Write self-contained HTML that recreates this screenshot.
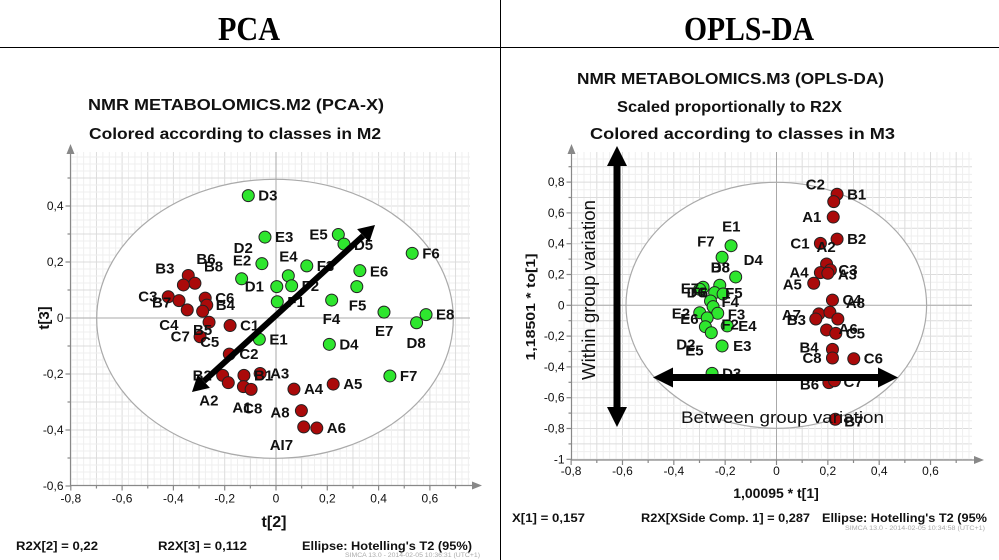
<!DOCTYPE html>
<html><head><meta charset="utf-8"><style>
html,body{margin:0;padding:0;background:#fff;}
svg{display:block;font-family:"Liberation Sans",sans-serif;}
</style></head><body>
<svg id="s" width="999" height="560" viewBox="0 0 999 560" xmlns="http://www.w3.org/2000/svg">
<line x1="0" y1="47.5" x2="999" y2="47.5" stroke="#000" stroke-width="1"/>
<line x1="500.5" y1="0" x2="500.5" y2="560" stroke="#000" stroke-width="1"/>
<text x="249" y="40" text-anchor="middle" font-family="Liberation Serif,serif" font-weight="bold" font-size="34" textLength="62" lengthAdjust="spacingAndGlyphs">PCA</text>
<text x="749" y="40" text-anchor="middle" font-family="Liberation Serif,serif" font-weight="bold" font-size="34" textLength="130" lengthAdjust="spacingAndGlyphs">OPLS-DA</text>
<g font-weight="bold" font-size="16" fill="#111">
<text x="88" y="110" textLength="296" lengthAdjust="spacingAndGlyphs">NMR METABOLOMICS.M2 (PCA-X)</text>
<text x="89" y="139" textLength="292" lengthAdjust="spacingAndGlyphs">Colored according to classes in M2</text>
<text x="577" y="84" textLength="307" lengthAdjust="spacingAndGlyphs">NMR METABOLOMICS.M3 (OPLS-DA)</text>
<text x="617" y="112" textLength="225" lengthAdjust="spacingAndGlyphs">Scaled proportionally to R2X</text>
<text x="590" y="139" textLength="305" lengthAdjust="spacingAndGlyphs">Colored according to classes in M3</text>
</g>
<g font-weight="bold" font-size="12" fill="#111">
<text x="16" y="550" textLength="82" lengthAdjust="spacingAndGlyphs">R2X[2] = 0,22</text>
<text x="158" y="550" textLength="89" lengthAdjust="spacingAndGlyphs">R2X[3] = 0,112</text>
<text x="302" y="550" textLength="170" lengthAdjust="spacingAndGlyphs">Ellipse: Hotelling's T2 (95%)</text>
<text x="512" y="522" textLength="73" lengthAdjust="spacingAndGlyphs">X[1] = 0,157</text>
<text x="641" y="522" textLength="169" lengthAdjust="spacingAndGlyphs">R2X[XSide Comp. 1] = 0,287</text>
<text x="822" y="522" textLength="165" lengthAdjust="spacingAndGlyphs">Ellipse: Hotelling's T2 (95%</text>
</g>
<text x="345" y="557" font-size="6" fill="#aaa" textLength="135" lengthAdjust="spacingAndGlyphs">SIMCA 13.0 - 2014-02-05 10:36:31 (UTC+1)</text>
<text x="845" y="530" font-size="6" fill="#aaa" textLength="140" lengthAdjust="spacingAndGlyphs">SIMCA 13.0 - 2014-02-05 10:34:58 (UTC+1)</text>
<g id="pca"></g>
<g id="opls"></g>
</svg>
<script>
// ---- PCA data ----
const pcaX = [-0.108,-0.043,-0.055,-0.134,0.003,0.048,0.061,0.120,0.005,0.243,0.265,0.327,0.315,0.217,0.421,0.585,0.548,0.531,0.208,0.444,-0.065,
 -0.342,-0.316,-0.361,-0.420,-0.378,-0.346,-0.276,-0.270,-0.286,-0.261,-0.296,-0.179,-0.182,-0.208,-0.186,-0.125,-0.062,-0.127,-0.097,0.070,0.223,0.099,0.108,0.159];
const pcaY = [0.437,0.289,0.194,0.140,0.112,0.151,0.115,0.186,0.058,0.298,0.264,0.169,0.112,0.064,0.021,0.012,-0.017,0.231,-0.094,-0.207,-0.076,
 0.152,0.124,0.118,0.076,0.062,0.029,0.071,0.046,0.024,-0.015,-0.067,-0.027,-0.129,-0.205,-0.231,-0.205,-0.198,-0.245,-0.255,-0.254,-0.236,-0.331,-0.389,-0.393];
const pcaClass = [1,1,1,1,1,1,1,1,1,1,1,1,1,1,1,1,1,1,1,1,1, 2,2,2,2,2,2,2,2,2,2,2,2,2,2,2,2,2,2,2,2,2,2,2,2];
const pcaLabText = ["D3","E3","E2","D2","D1","E4","F2","F3","F1","E5","D5","E6","F5","F4","E7","E8","D8","F6","D4","F7","E1",
 "B3","B8","B6","C3","B7","C4","C6","B4","C7","B5","C5","C1","C2","B2","A2","B1","A3","A1","C8","A4","A5","A8","AI7","A6"];
const pcaLabPt = [0,1,2,3,4,5,6,7,8,9,10,11,12,13,14,15,16,17,18,19,20,21,22,23,24,25,26,27,28,29,30,31,32,33,34,35,36,37,38,39,40,41,42,43,44];
const pcaLabDx = [10,10,-29,-8,-32,-9,10,10,10,-29,10,10,-8,-9,-9,10,-10,10,10,10,10, -33,9,13,-30,-27,-28,10,9,-32,-16,0,10,10,-30,-29,10,10,-11,-8,10,10,-31,-34,10];
const pcaLabDy = [0,0,-3,-31,0,-19,0,0,0,0,1,1,19,19,19,0,20,0,0,0,0, -7,-17,-26,0,2,15,0,0,25,8,5,0,0,0,18,0,0,21,19,0,0,2,18,0];
const pcaTicksX = [-0.8,-0.6,-0.4,-0.2,0,0.2,0.4,0.6];
const pcaTicksY = [-0.6,-0.4,-0.2,0,0.2,0.4];
// ---- OPLS data ----
const oplsX = [0.236,0.223,0.221,0.236,0.171,0.195,0.210,0.171,0.200,0.145,0.218,0.165,0.208,0.153,0.239,0.195,0.231,0.218,0.218,0.301,0.204,0.226,0.229,
 -0.177,-0.212,-0.159,-0.221,-0.286,-0.299,-0.241,-0.208,-0.257,-0.247,-0.299,-0.229,-0.270,-0.192,-0.277,-0.254,-0.212,-0.251];
const oplsY = [0.721,0.673,0.573,0.430,0.402,0.268,0.229,0.212,0.208,0.143,0.034,-0.056,-0.045,-0.089,-0.089,-0.160,-0.182,-0.286,-0.342,-0.347,-0.502,-0.490,-0.740,
 0.387,0.312,0.184,0.130,0.117,0.104,0.082,0.073,0.028,-0.009,-0.048,-0.052,-0.082,-0.134,-0.139,-0.178,-0.264,-0.442];
const oplsClass = [2,2,2,2,2,2,2,2,2,2,2,2,2,2,2,2,2,2,2,2,2,2,2, 1,1,1,1,1,1,1,1,1,1,1,1,1,1,1,1,1,1];
const oplsLabText = ["B1","C2","A1","B2","C1","A2","C3","A4","A3","A5","C4","A8","A7","B3","A6","C5","B4","C8","C6","B6","C7","B7",
 "E1","F7","D4","D8","B8","E7","D6","F6","F5","F4","E2","F3","E6","E4","F2","E3","D2","E5","D3"];
const oplsLabPt = [0,1,2,3,4,5,6,7,8,9,10,14,11,13,15,16,17,18,19,20,21,22,
 23,24,25,26,26,28,29,29,30,31,33,34,35,36,37,39,38,38,40];
const oplsLabDx = [10,-28,-31,10,-30,-10,8,-31,10,-31,10,8,-37,-29,12,10,-33,-30,10,-29,9,9,
 -9,-25,8,-9,-9,-19,-28,-24,2,11,-28,10,-27,11,16,11,-35,-26,10];
const oplsLabDy = [0,-17,0,0,0,-17,0,0,1,1,0,-16,1,1,-1,0,-2,0,0,2,1,2,
 -19,-16,-17,-18,-18,-1,0,0,-1,1,1,1,1,0,-2,0,12,18,0];
const oplsTicksX = [-0.8,-0.6,-0.4,-0.2,0,0.2,0.4,0.6];
const oplsTicksY = [-1,-0.8,-0.6,-0.4,-0.2,0,0.2,0.4,0.6,0.8];

const NS="http://www.w3.org/2000/svg";
function mk(parent,tag,attrs){const e=document.createElementNS(NS,tag);for(const k in attrs)e.setAttribute(k,attrs[k]);parent.appendChild(e);return e;}
function fmt(v){if(Math.abs(v)<1e-9)return "0";return String(Math.round(v*10)/10).replace(".",",");}

function plot(g,cfg,X,Y,C,LT,LP,LDX,LDY,TX,TY,prefix){
  const sx=v=>cfg.x0+v*cfg.kx, sy=v=>cfg.y0-v*cfg.ky;
  const L=cfg.left,R=cfg.right,T=cfg.top,B=cfg.bottom;
  const grid=mk(g,'g',{});
  
  
  for(let v=-1.2;v<=1.2001;v+=0.025){
    const px=sx(v); const major=Math.abs(Math.round(v*10)-v*10)<1e-6;
    if(px>L&&px<R) mk(grid,'line',{x1:px,y1:T,x2:px,y2:B,stroke:major?'#dcdcdc':'#efefef','stroke-width':1});
    const py=sy(v*cfg.gy);
    if(py>T&&py<B) mk(grid,'line',{x1:L,y1:py,x2:R,y2:py,stroke:(Math.abs(Math.round(v*cfg.gy*10)-v*cfg.gy*10)<1e-6)?'#dcdcdc':'#efefef','stroke-width':1});
  }
  mk(grid,'line',{x1:sx(0),y1:T,x2:sx(0),y2:B,stroke:'#aaa','stroke-width':1});
  mk(grid,'line',{x1:L,y1:sy(0),x2:R,y2:sy(0),stroke:'#aaa','stroke-width':1});
  const ax=mk(g,'g',{stroke:'#888','stroke-width':1.2,fill:'#888'});
  
  
  mk(ax,'line',{x1:L,y1:B,x2:R+8,y2:B});
  mk(ax,'line',{x1:L,y1:B,x2:L,y2:T-4});
  mk(ax,'path',{d:`M${R+12},${B} l-10,-4 l0,8 z`,stroke:'none'});
  mk(ax,'path',{d:`M${L},${T-8} l-4,10 l8,0 z`,stroke:'none'});
  TX.forEach(v=>{const px=sx(v);
    mk(ax,'line',{x1:px,y1:B,x2:px,y2:B+5});
    mk(ax,'line',{x1:px+cfg.kx*0.1,y1:B,x2:px+cfg.kx*0.1,y2:B+3});
    const t=mk(g,'text',{x:px,y:B+cfg.tickDy,'text-anchor':'middle','font-size':12,fill:'#111'});t.textContent=fmt(v);
    
    
  });
  TY.forEach(v=>{const py=sy(v);
    mk(ax,'line',{x1:L-5,y1:py,x2:L,y2:py});
    mk(ax,'line',{x1:L-3,y1:py-cfg.ky*0.1,x2:L,y2:py-cfg.ky*0.1});
    const t=mk(g,'text',{x:L-7,y:py+4,'text-anchor':'end','font-size':12,fill:'#111'});t.textContent=fmt(v);
    
    
  });
  const el=mk(g,'ellipse',{cx:cfg.ecx,cy:cfg.ecy,rx:cfg.erx,ry:cfg.ery,fill:'#fff',stroke:'#aaa','stroke-width':1.2});
  
  
  mk(g,'line',{x1:sx(0),y1:cfg.ecy-cfg.ery,x2:sx(0),y2:cfg.ecy+cfg.ery,stroke:'#aaa','stroke-width':1});
  mk(g,'line',{x1:cfg.ecx-cfg.erx,y1:sy(0),x2:cfg.ecx+cfg.erx,y2:sy(0),stroke:'#aaa','stroke-width':1});
  const pts=mk(g,'g',{});
  
  
  X.forEach((v,i)=>{
    const c=mk(pts,'circle',{cx:sx(v),cy:sy(Y[i]),r:6,fill:C[i]===1?'#2ee62e':'#aa0a0a',stroke:'#222','stroke-width':1});
    
    
  });
  const labs=mk(g,'g',{'font-weight':'bold','font-size':15,fill:'#111'});
  
  
  LT.forEach((s,i)=>{
    const p=LP[i];
    const t=mk(labs,'text',{x:sx(X[p])+LDX[i],y:sy(Y[p])+LDY[i]+5});t.textContent=s;
    
    
  });
  return {sx,sy};
}
function arrow(g,x1,y1,x2,y2,w,hl,hw){
  const dx=x2-x1,dy=y2-y1,len=Math.hypot(dx,dy),ux=dx/len,uy=dy/len,nx=-uy,ny=ux;
  const a=[x1+ux*hl,y1+uy*hl],b=[x2-ux*hl,y2-uy*hl];
  mk(g,'line',{x1:a[0],y1:a[1],x2:b[0],y2:b[1],stroke:'#000','stroke-width':w});
  mk(g,'path',{d:`M${x2},${y2} L${b[0]+nx*hw},${b[1]+ny*hw} L${b[0]-nx*hw},${b[1]-ny*hw} Z`,fill:'#000'});
  mk(g,'path',{d:`M${x1},${y1} L${a[0]+nx*hw},${a[1]+ny*hw} L${a[0]-nx*hw},${a[1]-ny*hw} Z`,fill:'#000'});
}

const gp=document.getElementById('pca');
plot(gp,{x0:276,kx:256.5,y0:318,ky:280,gy:1,left:70.5,right:470,top:152,bottom:485.5,tickDy:17,ecx:275,ecy:318.8,erx:178.3,ery:139.5},
  pcaX,pcaY,pcaClass,pcaLabText,pcaLabPt,pcaLabDx,pcaLabDy,pcaTicksX,pcaTicksY,'pca');
const pa=mk(gp,'g',{});


arrow(pa,192,392,375,225,6,16,9);
let t=mk(gp,'text',{x:274,y:527,'text-anchor':'middle','font-weight':'bold','font-size':16,fill:'#111'});t.textContent='t[2]';


t=mk(gp,'text',{x:0,y:0,'text-anchor':'middle','font-weight':'bold','font-size':15,fill:'#111',transform:'translate(49,318) rotate(-90)'});t.textContent='t[3]';



const go=document.getElementById('opls');
plot(go,{x0:776.5,kx:256.7,y0:305.3,ky:154,gy:2,left:571.5,right:972,top:152,bottom:460,tickDy:15,ecx:776.3,ecy:305.3,erx:150.3,ery:123},
  oplsX,oplsY,oplsClass,oplsLabText,oplsLabPt,oplsLabDx,oplsLabDy,oplsTicksX,oplsTicksY,'opls');
const oa=mk(go,'g',{});


arrow(oa,617,146,617,427,7,20,10);
arrow(oa,653,377.5,898,377.5,7,20,10);
t=mk(go,'text',{x:0,y:0,'text-anchor':'middle','font-size':18,fill:'#111',transform:'translate(595,290) rotate(-90)',textLength:180,lengthAdjust:'spacingAndGlyphs'});t.textContent='Within group variation';


t=mk(go,'text',{x:681,y:423,'font-size':17,fill:'#111',textLength:203,lengthAdjust:'spacingAndGlyphs'});t.textContent='Between group variation';


t=mk(go,'text',{x:776,y:498,'text-anchor':'middle','font-weight':'bold','font-size':14,fill:'#111'});t.textContent='1,00095 * t[1]';


t=mk(go,'text',{x:0,y:0,'text-anchor':'middle','font-weight':'bold','font-size':13,fill:'#111',transform:'translate(535,307) rotate(-90)',textLength:107,lengthAdjust:'spacingAndGlyphs'});t.textContent='1,18501 * to[1]';


</script>
</body></html>
